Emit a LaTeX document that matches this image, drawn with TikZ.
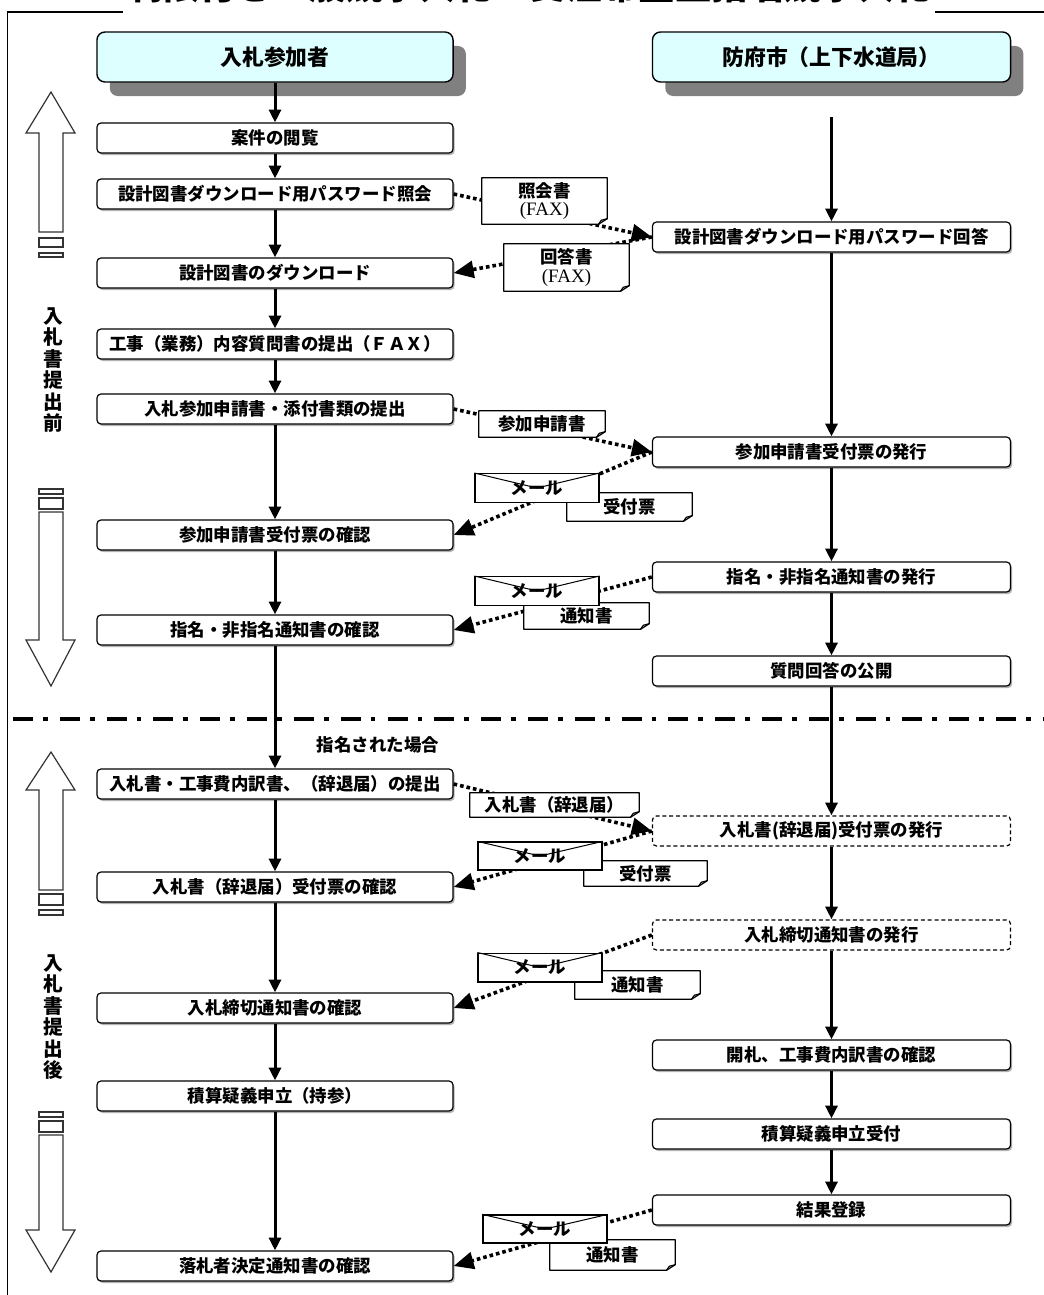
\documentclass[tikz,border=0pt]{standalone}
\usepackage{fontspec}
\setmainfont{Noto Sans CJK JP}
\newfontfamily\faxfont{Liberation Serif}
\usetikzlibrary{arrows.meta,shadows}
\definecolor{headfill}{RGB}{222,255,255}
\definecolor{headshade}{RGB}{128,128,128}
\newcommand{\paperedge}[1]{%
  \draw[paperrim] (#1.north west) -- (#1.north east) -- ([yshift=0.14cm]#1.south east)
    -- ([xshift=-0.22cm]#1.south east) -- (#1.south west) -- cycle;
  \draw[paperrim] ([xshift=-0.22cm]#1.south east) -- ([xshift=-0.15cm,yshift=0.1cm]#1.south east)
    -- ([yshift=0.14cm]#1.south east);}
\newcommand{\mailflap}[1]{%
  \draw[line width=0.025cm] (#1.north west) -- (#1.center) -- (#1.north east);}
\begin{document}
\begin{tikzpicture}[x=0.025cm,y=-0.025cm,
    head/.style={draw, line width=0.035cm, rounded corners=0.2cm, fill=headfill,
      minimum width=8.9cm, minimum height=1.25cm, inner sep=0pt,
      font=\fontsize{15.5pt}{18pt}\selectfont\bfseries,
      drop shadow={shadow xshift=0.32cm, shadow yshift=-0.35cm, fill=headshade, opacity=1}},
    lbox/.style={draw, line width=0.03cm, rounded corners=0.1cm, fill=white,
      minimum width=8.9cm, minimum height=0.75cm, inner sep=0pt,
      font=\fontsize{12.4pt}{14pt}\selectfont\bfseries,
      drop shadow={shadow xshift=0.04cm, shadow yshift=-0.05cm, fill=gray!60, opacity=1}},
    rbox/.style={lbox, minimum width=8.95cm},
    rdash/.style={draw, line width=0.03cm, rounded corners=0.1cm, fill=white,
      dash pattern=on 0.1cm off 0.07cm, minimum width=8.95cm, minimum height=0.75cm,
      inner sep=0pt, font=\fontsize{12.4pt}{14pt}\selectfont\bfseries},
    flow/.style={line width=0.075cm, -{Triangle[length=0.32cm,width=0.3cm]}},
    paperline/.style={line width=0.09cm, dash pattern=on 0.09cm off 0.075cm,
      -{Triangle[length=0.5cm,width=0.42cm]}},
    paper/.style={fill=white, inner sep=0pt, align=center,
      font=\fontsize{12.4pt}{13pt}\selectfont\bfseries},
    paperrim/.style={line width=0.03cm, line join=round},
    mail/.style={draw, fill=white, line width=0.03cm, minimum width=3.1cm,
      minimum height=0.72cm, inner sep=0pt, font=\fontsize{12.4pt}{14pt}\selectfont\bfseries},
    bigarrow/.style={draw=black!80, line width=0.03cm, fill=white},
    side/.style={align=center, font=\fontsize{14pt}{15.3pt}\selectfont\bfseries}]
      \useasboundingbox (0,0) rectangle (1044,1295);
      \clip (0,0) rectangle (1044,1295);
      \draw[line width=0.045cm] (7.5,1400) -- (7.5,12) -- (1100,12);
      \node[fill=white, inner xsep=0.1cm, inner ysep=0.25cm,
        font=\fontsize{26pt}{30pt}\selectfont\bfseries] (title) at (529,-14)
        {制限付き一般競争入札　受注希望型指名競争入札};
      \node[head] (l0) at (275,57) {入札参加者};
      \node[head, minimum width=8.95cm] (r0) at (831.5,57) {防府市（上下水道局）};
      \node[lbox] (l1) at (275,138) {案件の閲覧};
      \node[lbox] (l2) at (275,194) {設計図書ダウンロード用パスワード照会};
      \node[lbox] (l3) at (275,273) {設計図書のダウンロード};
      \node[lbox] (l4) at (275,344) {工事（業務）内容質問書の提出（ＦＡＸ）};
      \node[lbox] (l5) at (275,409) {入札参加申請書・添付書類の提出};
      \node[lbox] (l6) at (275,535) {参加申請書受付票の確認};
      \node[lbox] (l7) at (275,630) {指名・非指名通知書の確認};
      \node[lbox] (l8) at (275,784) {入札書・工事費内訳書、（辞退届）の提出};
      \node[lbox] (l9) at (275,887) {入札書（辞退届）受付票の確認};
      \node[lbox] (l10) at (275,1008) {入札締切通知書の確認};
      \node[lbox] (l11) at (275,1096) {積算疑義申立（持参）};
      \node[lbox] (l12) at (275,1266) {落札者決定通知書の確認};
      \coordinate (r0s) at (831.5,117);
      \node[rbox] (r1) at (831.5,237) {設計図書ダウンロード用パスワード回答};
      \node[rbox] (r2) at (831.5,452) {参加申請書受付票の発行};
      \node[rbox] (r3) at (831.5,577) {指名・非指名通知書の発行};
      \node[rbox] (r4) at (831.5,671) {質問回答の公開};
      \node[rdash] (r5) at (831.5,831) {入札書(辞退届)受付票の発行};
      \node[rdash] (r6) at (831.5,935) {入札締切通知書の発行};
      \node[rbox] (r7) at (831.5,1055) {開札、工事費内訳書の確認};
      \node[rbox] (r8) at (831.5,1134) {積算疑義申立受付};
      \node[rbox] (r9) at (831.5,1210) {結果登録};
      \draw[line width=0.12cm, dash pattern=on 0.5cm off 0.25cm on 0.12cm off 0.3cm]
        (13,719) -- (1044,719);
      \node[font=\fontsize{12.4pt}{14pt}\selectfont\bfseries] (note) at (378,745) {指名された場合};
      \begin{scope}[flow]
        \draw (l0) -- (l1);
        \draw (l1) -- (l2);
        \draw (l2) -- (l3);
        \draw (l3) -- (l4);
        \draw (l4) -- (l5);
        \draw (l5) -- (l6);
        \draw (l6) -- (l7);
        \draw (l7) -- (l8);
        \draw (l8) -- (l9);
        \draw (l9) -- (l10);
        \draw (l10) -- (l11);
        \draw (l11) -- (l12);
        \draw (r0s) -- (r1);
        \draw (r1) -- (r2);
        \draw (r2) -- (r3);
        \draw (r3) -- (r4);
        \draw (r4) -- (r5);
        \draw (r5) -- (r6);
        \draw (r6) -- (r7);
        \draw (r7) -- (r8);
        \draw (r8) -- (r9);
      \end{scope}
      \begin{scope}[paperline]
        \draw (l2.east) -- (r1.west);
        \draw (r1.west) -- (l3.east);
        \draw (l5.east) -- (r2.west);
        \draw (r2.west) -- (l6.east);
        \draw (r3.west) -- (l7.east);
        \draw (l8.east) -- (r5.west);
        \draw (r5.west) -- (l9.east);
        \draw (r6.west) -- (l10.east);
        \draw (r9.west) -- (l12.east);
      \end{scope}
      \node[paper, minimum width=3.125cm, minimum height=1.15cm] (d1) at (544.5,201)
        {照会書\\{\faxfont\mdseries\fontsize{13.5pt}{13pt}\selectfont (FAX)}};
      \node[paper, minimum width=3.125cm, minimum height=1.175cm] (d2) at (566.5,267.5)
        {回答書\\{\faxfont\mdseries\fontsize{13.5pt}{13pt}\selectfont (FAX)}};
      \node[paper, minimum width=3.15cm, minimum height=0.65cm] (d3) at (542,424) {参加申請書};
      \node[paper, minimum width=3.125cm, minimum height=0.7cm] (d4) at (629.5,507) {受付票};
      \node[paper, minimum width=3.125cm, minimum height=0.65cm] (d5) at (586.5,616) {通知書};
      \node[paper, minimum width=4.225cm, minimum height=0.6cm] (d6) at (554.5,805) {入札書（辞退届）};
      \node[paper, minimum width=3.075cm, minimum height=0.625cm] (d7) at (645.5,873.5) {受付票};
      \node[paper, minimum width=3.125cm, minimum height=0.7cm] (d8) at (637.5,985) {通知書};
      \node[paper, minimum width=3.125cm, minimum height=0.75cm] (d9) at (612.5,1255) {通知書};
      \paperedge{d1}
      \paperedge{d2}
      \paperedge{d3}
      \paperedge{d4}
      \paperedge{d5}
      \paperedge{d6}
      \paperedge{d7}
      \paperedge{d8}
      \paperedge{d9}
      \node[mail] (m1) at (537,488) {\raisebox{-0.12cm}{メール}};
      \node[mail] (m2) at (537,591) {\raisebox{-0.12cm}{メール}};
      \node[mail, minimum height=0.7cm] (m3) at (540,856) {\raisebox{-0.12cm}{メール}};
      \node[mail, minimum height=0.72cm] (m4) at (540,967.5) {\raisebox{-0.12cm}{メール}};
      \node[mail, minimum height=0.7cm] (m5) at (545,1229) {\raisebox{-0.12cm}{メール}};
      \mailflap{m1}
      \mailflap{m2}
      \mailflap{m3}
      \mailflap{m4}
      \mailflap{m5}
      \draw[bigarrow] (51,92) -- (75,133) -- (63,133) -- (63,232) -- (39,232) -- (39,133) -- (26,133) -- cycle;
      \draw[bigarrow] (39,238) rectangle (63,247) (39,253) rectangle (63,257);
      \node[side] (t1) at (53,370) {入\\札\\書\\提\\出\\前};
      \draw[bigarrow] (39,489) rectangle (63,494) (39,498) rectangle (63,509);
      \draw[bigarrow] (39,512) -- (63,512) -- (63,640) -- (75,640) -- (51,686) -- (26,640) -- (39,640) -- cycle;
      \draw[bigarrow] (51,752) -- (75,790) -- (63,790) -- (63,890) -- (39,890) -- (39,790) -- (26,790) -- cycle;
      \draw[bigarrow] (39,894) rectangle (63,905) (39,910) rectangle (63,915);
      \node[side] (t2) at (53,1017) {入\\札\\書\\提\\出\\後};
      \draw[bigarrow] (39,1112) rectangle (63,1117) (39,1121) rectangle (63,1132);
      \draw[bigarrow] (39,1135) -- (63,1135) -- (63,1230) -- (75,1230) -- (51,1272) -- (26,1230) -- (39,1230) -- cycle;
\end{tikzpicture}
\end{document}
